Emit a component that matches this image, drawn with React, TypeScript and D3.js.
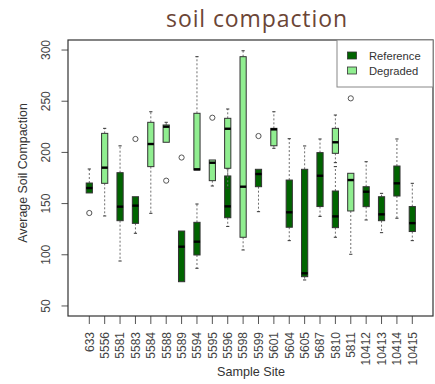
import React from "react";
import * as d3 from "d3";

// Sample sites along the x axis
const sites = [
  "633", "5556", "5581", "5583", "5584", "5588", "5589", "5594", "5595", "5596", "5598",
  "5599", "5601", "5604", "5605", "5687", "5810", "5811", "10412", "10413", "10414", "10415",
];

// Five-number summaries: [lower whisker, Q1, median, Q3, upper whisker]
const referenceStats: Record<string, number[]> = {
  "633": [160.4, 160.4, 165.2, 170.1, 183.8],
  "5581": [93.9, 133.3, 147.0, 180.2, 206.4],
  "5583": [121.0, 130.7, 148.0, 156.7, 156.7],
  "5589": [73.7, 73.7, 107.9, 123.2, 123.2],
  "5594": [86.8, 99.8, 112.8, 131.7, 149.6],
  "5596": [127.7, 136.2, 147.3, 177.0, 184.0],
  "5599": [142.1, 166.5, 178.9, 183.5, 183.5],
  "5604": [113.8, 126.9, 141.5, 173.0, 213.4],
  "5605": [75.4, 78.6, 81.9, 183.5, 206.3],
  "5687": [137.5, 147.1, 177.2, 199.8, 213.1],
  "5810": [117.1, 126.5, 137.5, 162.3, 186.1],
  "10412": [134.0, 147.0, 161.6, 166.5, 190.9],
  "10413": [121.6, 133.3, 139.5, 156.7, 160.0],
  "10414": [135.7, 157.4, 169.8, 186.7, 213.1],
  "10415": [113.8, 122.7, 130.9, 147.1, 169.8],
};

const degradedStats: Record<string, number[]> = {
  "5556": [137.9, 169.8, 185.1, 218.6, 223.5],
  "5584": [140.5, 186.1, 208.2, 229.4, 239.7],
  "5588": [209.9, 209.9, 225.1, 226.8, 229.4],
  "5594": [182.8, 182.8, 183.5, 238.2, 293.5],
  "5595": [167.2, 172.4, 189.9, 192.6, 192.6],
  "5596": [165.0, 184.5, 223.1, 233.3, 242.4],
  "5598": [104.7, 117.1, 166.5, 293.5, 299.3],
  "5601": [204.0, 206.5, 222.5, 223.5, 239.7],
  "5810": [190.0, 199.1, 209.9, 223.5, 236.5],
  "5811": [100.5, 142.8, 173.0, 179.6, 179.6],
};

// Outlying observations: [site, value]
const referenceOutliers: [string, number][] = [
  ["633", 140.8],
  ["5583", 213.1],
  ["5589", 195.0],
  ["5599", 216.0],
];
const degradedOutliers: [string, number][] = [
  ["5588", 172.4],
  ["5595", 233.9],
  ["5811", 252.8],
];

const yTicks = [50, 100, 150, 200, 250, 300];

const groups = [
  { name: "Reference", color: "#006400" },
  { name: "Degraded", color: "#90ee90" },
];

const W = 435;
const H = 384;
const plot = { left: 68, right: 433, top: 40, bottom: 316 };

const x = d3.scalePoint<string>().domain(sites).range([89.3, 412.3]);
const y = d3.scaleLinear().domain([40.2, 309.8]).range([plot.bottom, plot.top]);

const BOX_W = 6.2;
const CAP_W = 3.2;
const AXIS_FONT = "'Liberation Sans', Arial, sans-serif";

function Box({ site, s, fill }: { site: string; s: number[]; fill: string }) {
  const cx = x(site)!;
  const [lo, q1, med, q3, hi] = s;
  const whisker = { stroke: "#6f6f6f", strokeWidth: 1, strokeDasharray: "2,2" };
  return (
    <g>
      {hi > q3 && (
        <>
          <line x1={cx} x2={cx} y1={y(q3)} y2={y(hi)} {...whisker} />
          <line x1={cx - CAP_W / 2} x2={cx + CAP_W / 2} y1={y(hi)} y2={y(hi)} stroke="#333" strokeWidth={1} />
        </>
      )}
      {lo < q1 && (
        <>
          <line x1={cx} x2={cx} y1={y(q1)} y2={y(lo)} {...whisker} />
          <line x1={cx - CAP_W / 2} x2={cx + CAP_W / 2} y1={y(lo)} y2={y(lo)} stroke="#333" strokeWidth={1} />
        </>
      )}
      <rect
        x={cx - BOX_W / 2}
        y={y(q3)}
        width={BOX_W}
        height={Math.max(0.5, y(q1) - y(q3))}
        fill={fill}
        stroke="#333"
        strokeWidth={1}
      />
      <line x1={cx - BOX_W / 2} x2={cx + BOX_W / 2} y1={y(med)} y2={y(med)} stroke="#000" strokeWidth={2.4} />
    </g>
  );
}

export default function App() {
  return (
    <svg
      width={W}
      height={H}
      style={{ position: "absolute", left: 0, top: 0, background: "#fff" }}
      fontFamily={AXIS_FONT}
    >
      <text
        x={257}
        y={27}
        textAnchor="middle"
        fontFamily="'Open Sans', sans-serif"
        fontSize={23}
        letterSpacing={0.9}
        fill="#6b4536"
      >
        soil compaction
      </text>

      {/* y axis */}
      {yTicks.map((t) => (
        <g key={t}>
          <line x1={plot.left - 6.5} x2={plot.left} y1={y(t)} y2={y(t)} stroke="#555" />
          <text
            transform={`translate(50,${y(t)}) rotate(-90)`}
            textAnchor="middle"
            fontSize={12}
            fill="#444"
          >
            {t}
          </text>
        </g>
      ))}
      <text
        transform={`translate(27,173) rotate(-90)`}
        textAnchor="middle"
        fontSize={12.4}
        fill="#333"
      >
        Average Soil Compaction
      </text>

      {/* x axis */}
      {sites.map((s) => (
        <g key={s}>
          <line x1={x(s)} x2={x(s)} y1={plot.bottom} y2={plot.bottom + 8} stroke="#555" />
          <text
            transform={`translate(${x(s)! + 4.3},332) rotate(-90)`}
            textAnchor="end"
            fontSize={12}
            fill="#444"
          >
            {s}
          </text>
        </g>
      ))}
      <text x={251} y={376} textAnchor="middle" fontSize={12.6} fill="#333">
        Sample Site
      </text>

      {/* boxes */}
      {sites.map((s) =>
        referenceStats[s] ? <Box key={"r" + s} site={s} s={referenceStats[s]} fill={groups[0].color} /> : null
      )}
      {sites.map((s) =>
        degradedStats[s] ? <Box key={"d" + s} site={s} s={degradedStats[s]} fill={groups[1].color} /> : null
      )}
      {[...referenceOutliers, ...degradedOutliers].map(([s, v], i) => (
        <circle key={i} cx={x(s)} cy={y(v)} r={2.6} fill="#fff" stroke="#555" strokeWidth={1} />
      ))}

      {/* plot frame */}
      <rect
        x={plot.left}
        y={plot.top}
        width={plot.right - plot.left}
        height={plot.bottom - plot.top}
        fill="none"
        stroke="#333"
        strokeWidth={1.2}
      />

      {/* legend */}
      <rect x={337} y={plot.top} width={plot.right - 337} height={47} fill="#fff" stroke="#888" strokeWidth={1} />
      {groups.map((g, i) => (
        <g key={g.name}>
          <rect x={347.5} y={52 + i * 15} width={9} height={7} fill={g.color} stroke="#333" strokeWidth={0.8} />
          <text x={369} y={60 + i * 15} fontSize={11.2} fill="#333">
            {g.name}
          </text>
        </g>
      ))}
    </svg>
  );
}
